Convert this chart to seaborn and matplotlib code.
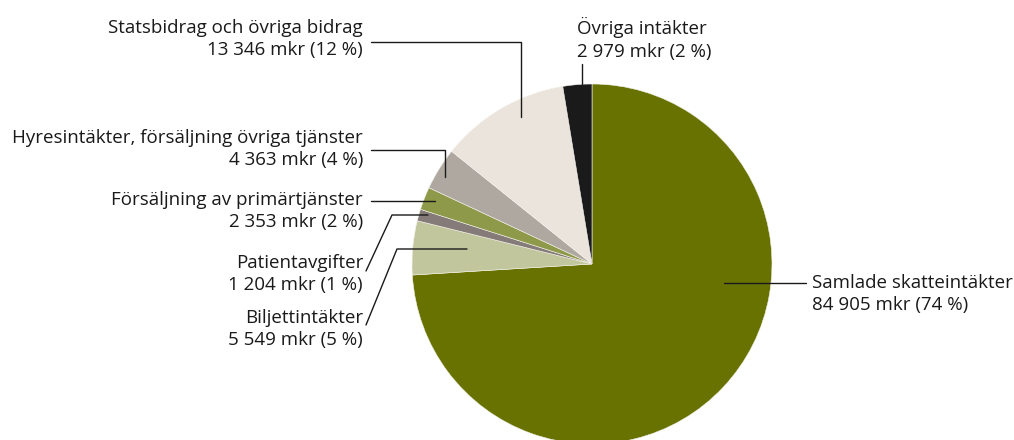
import matplotlib
matplotlib.use("Agg")
import matplotlib.pyplot as plt
import seaborn as sns
from matplotlib.lines import Line2D

sns.set_theme(style="white")
plt.rcParams['font.family'] = ['Open Sans', 'DejaVu Sans']

categories = ["Samlade skatteintäkter", "Biljettintäkter", "Patientavgifter",
              "Försäljning av primärtjänster", "Hyresintäkter, försäljning övriga tjänster",
              "Statsbidrag och övriga bidrag", "Övriga intäkter"]
values = [84905, 5549, 1204, 2353, 4363, 13346, 2979]
value_labels = ["84 905 mkr (74 %)", "5 549 mkr (5 %)", "1 204 mkr (1 %)",
                "2 353 mkr (2 %)", "4 363 mkr (4 %)", "13 346 mkr (12 %)", "2 979 mkr (2 %)"]
colors = ["#677200", "#c2c69c", "#857c79", "#8e9a4a", "#aea8a0", "#ebe4dc", "#1a1a1a"]

W, H = 1014, 440
fig = plt.figure(figsize=(W / 100, H / 100), dpi=100)
cx, cy, r = 592, 264, 180
ax = fig.add_axes([(cx - r) / W, (H - cy - r) / H, 2 * r / W, 2 * r / H])
ax.pie(values, colors=colors, startangle=90, counterclock=False,
       wedgeprops=dict(linewidth=0.4, edgecolor="#f4f1ea"))
ax.set_xlim(-1, 1)
ax.set_ylim(-1, 1)
ax.set_aspect("equal")
ax.axis("off")

def fx(x):
    return x / W

def fy(y):
    return 1 - y / H

# label layout: (text x px, block center y px, ha, leader polyline px)
layout = {
    0: (812, 294, "left", [(806, 283), (724, 283)]),
    1: (363, 329, "right", [(366, 325), (397, 249), (467, 249)]),
    2: (363, 274, "right", [(366, 271), (392, 215), (428, 215)]),
    3: (363, 211, "right", [(371, 201), (435, 201)]),
    4: (363, 149, "right", [(371, 150), (445, 150), (445, 177)]),
    5: (363, 39, "right", [(371, 42), (521, 42), (521, 117)]),
    6: (577, 39, "left", [(582, 64), (582, 92)]),
}

for i, (tx, ty, ha, pts) in layout.items():
    fig.text(fx(tx), fy(ty), categories[i] + "\n" + value_labels[i],
             ha=ha, va="center", fontsize=13.5, color="#1a1a1a",
             linespacing=1.3, multialignment=ha)
    xs = [fx(p[0]) for p in pts]
    ys = [fy(p[1]) for p in pts]
    fig.add_artist(Line2D(xs, ys, color="#1a1a1a", linewidth=1.0))

fig.savefig("out.png", dpi=100, facecolor="white")
